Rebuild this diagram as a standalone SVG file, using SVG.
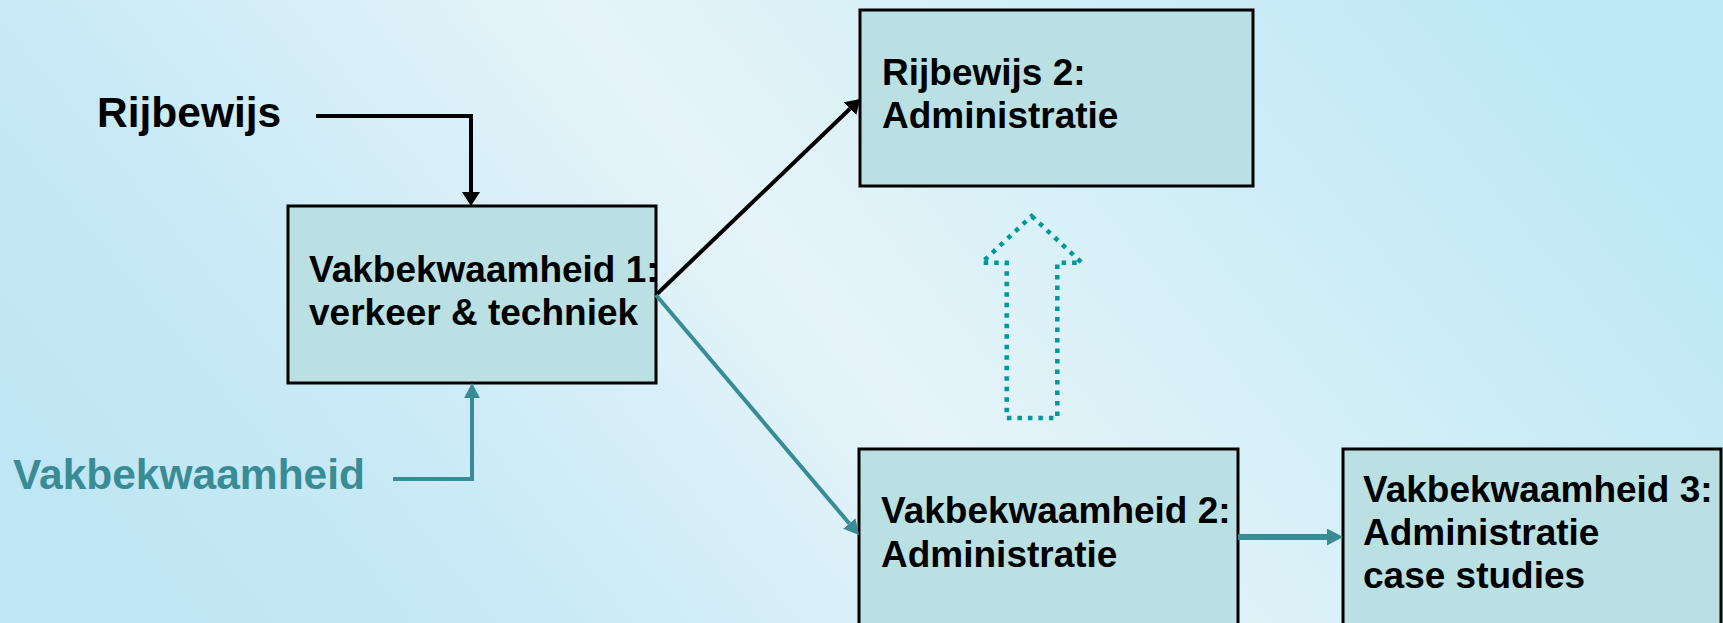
<svg xmlns="http://www.w3.org/2000/svg" width="1723" height="623" viewBox="0 0 1723 623">
  <defs>
    <linearGradient id="bg" x1="0" y1="0.65" x2="1" y2="0.35">
      <stop offset="0" stop-color="#bfe6f4"/>
      <stop offset="0.2" stop-color="#c9eaf6"/>
      <stop offset="0.48" stop-color="#e6f4f9"/>
      <stop offset="0.78" stop-color="#cdedf6"/>
      <stop offset="1" stop-color="#bde8f6"/>
    </linearGradient>
    <marker id="headBlack" markerUnits="userSpaceOnUse" viewBox="0 0 14 18" refX="0" refY="9" markerWidth="14" markerHeight="18" orient="auto">
      <path d="M0,0 L14,9 L0,18 z" fill="#000"/>
    </marker>
    <marker id="headTeal" markerUnits="userSpaceOnUse" viewBox="0 0 15 16" refX="0" refY="8" markerWidth="15" markerHeight="16" orient="auto">
      <path d="M0,0 L15,8 L0,16 z" fill="#3a8c94"/>
    </marker>
    <marker id="headTealBig" markerUnits="userSpaceOnUse" viewBox="0 0 16 17" refX="0" refY="8.5" markerWidth="16" markerHeight="17" orient="auto">
      <path d="M0,0 L16,8.5 L0,17 z" fill="#3a8c94"/>
    </marker>
  </defs>
  <style>
    .box { fill: #bae0e3; stroke: #000; stroke-width: 3; }
    .t { font-family: "Liberation Sans", Arial, sans-serif; font-weight: bold; font-size: 37px; fill: #000; }
    .lbl { font-family: "Liberation Sans", Arial, sans-serif; font-weight: bold; font-size: 42.5px; }
    .blk { fill: none; stroke: #000; stroke-width: 4; }
    .teal { fill: none; stroke: #3a8c94; stroke-width: 4; }
  </style>
  <rect x="0" y="0" width="1723" height="623" fill="url(#bg)"/>

  <g id="label-rijbewijs">
    <text class="lbl" x="97" y="127" fill="#000">Rijbewijs</text>
  </g>
  <g id="label-vakbekwaamheid">
    <text class="lbl" x="13" y="489" fill="#3a8c94">Vakbekwaamheid</text>
  </g>

  <g id="node-vak1">
    <rect class="box" x="288" y="206" width="368" height="177"/>
    <text class="t" x="309" y="282">Vakbekwaamheid 1:</text>
    <text class="t" x="309" y="325">verkeer &amp; techniek</text>
  </g>
  <g id="node-rij2">
    <rect class="box" x="860" y="10" width="393" height="176"/>
    <text class="t" x="882" y="85">Rijbewijs 2:</text>
    <text class="t" x="882" y="128">Administratie</text>
  </g>
  <g id="node-vak2">
    <rect class="box" x="859" y="449" width="379" height="180"/>
    <text class="t" x="881" y="523">Vakbekwaamheid 2:</text>
    <text class="t" x="881" y="567">Administratie</text>
  </g>
  <g id="node-vak3">
    <rect class="box" x="1343" y="449" width="378" height="180"/>
    <text class="t" x="1363" y="502">Vakbekwaamheid 3:</text>
    <text class="t" x="1363" y="545">Administratie</text>
    <text class="t" x="1363" y="588">case studies</text>
  </g>

  <g id="connectors">
    <path class="blk" d="M316,116 H471 V192" marker-end="url(#headBlack)"/>
    <path class="teal" d="M393,479 H472 V398" marker-end="url(#headTeal)"/>
    <path class="blk" d="M656,295 L850,108.7" marker-end="url(#headBlack)"/>
    <path class="teal" d="M656,295 L849.3,523.5" marker-end="url(#headTeal)"/>
    <path class="teal" style="stroke-width:6" d="M1238,537 H1327" marker-end="url(#headTealBig)"/>
    <polygon points="1031.7,216 1081.7,262.7 1057.3,262.7 1057.3,418 1006.7,418 1006.7,262.7 981.7,262.7" fill="none" stroke="#009999" stroke-width="4.5" stroke-dasharray="4.5 6"/>
  </g>
</svg>
